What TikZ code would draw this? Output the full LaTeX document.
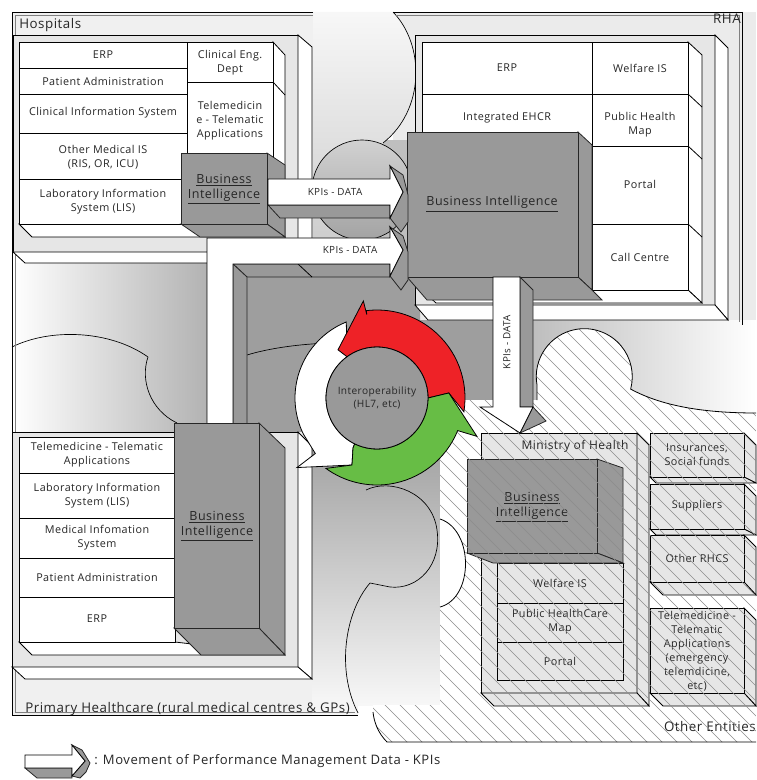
\documentclass[tikz,border=0pt]{standalone}
\usepackage{fontspec}
\setmainfont{Open Sans}[LetterSpace=4]
\definecolor{bigray}{HTML}{999999}
\definecolor{platgray}{HTML}{E6E6E6}
\definecolor{ringred}{HTML}{EE2227}
\definecolor{ringgreen}{HTML}{67BD45}
\definecolor{hatchgray}{HTML}{8C8C8C}
\newcommand\otherregion{(440,705) -- (440,400) -- (537,400) -- (537,385) arc[start angle=-190, end angle=15, radius=48] .. controls (660,405) and (700,413) .. (756,413) -- (756,742) -- (387,742) .. controls (378,733) and (374,722) .. (373,712) -- (373,705) -- cycle}
\tikzset{
  lnk/.style={draw=black, line width=0.6pt},
  platf/.style={fill=platgray, draw=black, line width=0.6pt},
  facew/.style={fill=white, draw=black, line width=0.6pt},
  boxw/.style={fill=white, draw=black, line width=0.6pt},
  boxg/.style={fill=platgray, draw=black, line width=0.6pt},
  bif/.style={fill=bigray, draw=black!85, line width=0.6pt},
  txt/.style={font=\fontsize{8.1}{10.5}\selectfont, align=center, inner sep=0pt, text=black!85},
  kpitxt/.style={font=\fontsize{7.4}{9}\selectfont, inner sep=0pt, text=black!85},
  bitxt/.style={font=\fontsize{9.4}{11.2}\selectfont, align=center, inner sep=0pt, text=black!85},
  reglbl/.style={font=\fontsize{10}{12}\selectfont, inner sep=0pt, text=black!85},
}
\begin{document}
\begin{tikzpicture}[x=0.75pt,y=-0.75pt]
\useasboundingbox (0,0) rectangle (756,780);
\fill[white] (0,0) rectangle (756,780);

% ---- background areas
\fill[black!8] (393,12) rectangle (756,330);
\fill[black!25] (383,140) rectangle (415,320);
\fill[black!6] (12,12) rectangle (313,252);
\shade[top color=black!3, bottom color=black!20] (313,12) -- (393,12) .. controls (425,45) and (425,110) .. (383,143) -- (383,250) -- (313,250) -- cycle;
\draw[line width=0.5pt] (393,12) .. controls (425,45) and (425,110) .. (383,143);
\shade[top color=black!18, bottom color=black!36, draw=black, line width=0.5pt] (362,190) circle[radius=50];
\shade[left color=white, right color=black!30] (12,263) rectangle (207,432);
\draw[line width=0.5pt] (12,347) .. controls (50,328) and (110,330) .. (148,357) .. controls (140,380) and (150,410) .. (177,423);
\fill[black!38] (233,264) -- (420,264) -- (420,320) -- (493,320) -- (493,432) -- (233,432) -- cycle;
\shade[top color=black!38, bottom color=black!3] (312,432) rectangle (440,705);
\shade[left color=black!30, right color=white] (493,320) rectangle (756,420);
\fill[black!6] (12,432) rectangle (312,715);
\fill[black!4] (312,700) rectangle (358,715);
\draw[line width=0.5pt] (247,355) .. controls (270,348) and (300,344) .. (330,343);
\draw[line width=0.5pt] (366,490) .. controls (390,478) and (432,492) .. (437,530) .. controls (442,565) and (418,590) .. (390,587) -- (370,583) .. controls (345,612) and (336,670) .. (358,713);

% ---- outer frames
\draw[lnk] (313,12) -- (12,12) -- (12,715) -- (358,715);
\draw[gray, line width=0.4pt] (313,15) -- (15,15) -- (15,712) -- (355,712);
\draw[lnk] (393,12) -- (742,12) -- (742,325);
\draw[gray, line width=0.4pt] (396,15) -- (739,15) -- (739,322);

% ---- other entities (hatched area)
\fill[white] \otherregion;
\draw[platf] (481,433) rectangle (637,693);
\draw[platf] (637,433) -- (649,445) -- (649,706) -- (637,693) -- cycle;
\draw[platf] (481,693) -- (494,706) -- (649,706) -- (637,693) -- cycle;
\draw[boxg] (497,563) rectangle (623,603);
\draw[boxg] (497,603) rectangle (623,642);
\draw[boxg] (497,642) rectangle (623,680);
\draw[bif] (597,459) -- (623,468) -- (623,563) -- (597,553) -- cycle;
\draw[bif] (467,553) -- (493,563) -- (623,563) -- (597,553) -- cycle;
\draw[bif] (467,459) rectangle (597,553);
\foreach \ya/\yb/\dd in {433/477/6, 484/529/6, 535/582/13, 608/693/13} {
  \draw[platf] (744,\ya) -- (756,\ya+12) -- (756,\yb+\dd) -- (744,\yb) -- cycle;
  \draw[platf] (650,\yb) -- (650+\dd,\yb+\dd) -- (756,\yb+\dd) -- (744,\yb) -- cycle;
  \draw[platf] (650,\ya) rectangle (744,\yb);
}
\node[reglbl, font=\fontsize{9}{11}\selectfont] (mh) at (575,446) {Ministry of Health};
\node[bitxt] (mbi) at (532,507) {\underline{Business}\\\underline{Intelligence}};
\node[txt] (m1) at (560,583) {Welfare IS};
\node[txt] (m2) at (560,622) {Public HealthCare\\Map};
\node[txt] (m3) at (560,661) {Portal};
\node[txt] (o1) at (697,455) {Insurances,\\Social funds};
\node[txt] (o2) at (697,506) {Suppliers};
\node[txt] (o3) at (697,558) {Other RHCS};
\node[txt] (o4) at (697,651) {Telemedicine -\\Telematic\\Applications\\(emergency\\telemdicine,\\etc)};
\node[reglbl, anchor=base east] (other) at (756,731) {Other Entities};
\begin{scope}
  \clip \otherregion;
  \foreach \k in {0,...,54} {
    \draw[hatchgray, line width=0.45pt] ({\k*15-80},300) -- ++(500,500);
  }
\end{scope}
\draw[line width=0.6pt] (537,400) -- (537,385) arc[start angle=-190, end angle=15, radius=48] .. controls (660,405) and (700,413) .. (756,413);
\draw[line width=0.6pt] (373,712) .. controls (374,722) and (378,733) .. (387,742) -- (756,742);
\draw[fill=white, line width=0.6pt] (440,519) .. controls (474,530) and (474,598) .. (440,607);

% ---- hospitals
\draw[platf] (13,35) rectangle (298,252);
\draw[facew] (298,35) -- (312,47) -- (312,263) -- (298,252) -- cycle;
\draw[facew] (13,252) -- (25,263) -- (312,263) -- (298,252) -- cycle;
\draw[facew] (273,42) -- (285,55) -- (285,237) -- (273,224) -- cycle;
\draw[lnk] (273,82) -- (285,95);
\draw[facew] (19,224) -- (32,237) -- (285,237) -- (273,224) -- cycle;
\draw[boxw] (19,42) rectangle (187,68);
\draw[boxw] (19,68) rectangle (187,94);
\draw[boxw] (19,94) rectangle (187,133);
\draw[boxw] (19,133) rectangle (187,179);
\draw[boxw] (19,179) rectangle (187,224);
\draw[boxw] (187,42) rectangle (273,82);
\draw[boxw] (187,82) rectangle (273,224);
\draw[bif] (267,153) -- (285,165) -- (285,237) -- (267,224) -- cycle;
\draw[bif] (181,224) -- (200,237) -- (285,237) -- (267,224) -- cycle;
\draw[bif] (181,153) rectangle (267,224);
\node[txt] (h1) at (103,55) {ERP};
\node[txt] (h2) at (103,81) {Patient Administration};
\node[txt] (h3) at (103,113) {Clinical Information System};
\node[txt] (h4) at (103,157) {Other Medical IS\\(RIS, OR, ICU)};
\node[txt] (h5) at (103,202) {Laboratory Information\\System (LIS)};
\node[txt] (h6) at (230,63) {Clinical Eng.\\Dept};
\node[txt] (h7) at (230,121) {Telemedicin\\e - Telematic\\Applications};
\node[bitxt] (hbi) at (224,189) {\underline{Business}\\\underline{Intelligence}};
\node[reglbl, anchor=base west] (hosp) at (19,29) {Hospitals};

% ---- RHA
\draw[platf] (415,35) rectangle (715,305);
\draw[facew] (715,35) -- (728,48) -- (728,320) -- (715,305) -- cycle;
\draw[facew] (415,305) -- (428,320) -- (728,320) -- (715,305) -- cycle;
\draw[facew] (688,42) -- (702,55) -- (702,303) -- (688,290) -- cycle;
\foreach \yy in {94,146,224} { \draw[lnk] (688,\yy) -- (702,\yy+13); }
\draw[facew] (422,290) -- (436,303) -- (702,303) -- (688,290) -- cycle;
\draw[boxw] (422,42) rectangle (592,94);
\draw[boxw] (422,94) rectangle (592,290);
\draw[boxw] (592,42) rectangle (688,94);
\draw[boxw] (592,94) rectangle (688,146);
\draw[boxw] (592,146) rectangle (688,224);
\draw[boxw] (592,224) rectangle (688,290);
\draw[bif] (578,132) -- (592,145) -- (592,290) -- (578,277) -- cycle;
\draw[bif] (407,277) -- (427,300) -- (602,300) -- (592,290) -- (578,277) -- cycle;
\draw[bif] (407,132) rectangle (578,277);
\node[txt] (r1) at (507,68) {ERP};
\node[txt] (r2) at (640,68) {Welfare IS};
\node[txt] (r3) at (507,118) {Integrated EHCR};
\node[txt] (r4) at (640,125) {Public Health\\Map};
\node[txt] (r5) at (640,184) {Portal};
\node[txt] (r6) at (640,257) {Call Centre};
\node[bitxt] (rbi) at (492,204) {\underline{Business Intelligence}};
\node[reglbl, anchor=base east] (rha) at (741,24) {RHA};

% ---- KPI arrow: hospitals to RHA
\draw[bif] (268,205) -- (280,218) -- (390,218) -- (390,205) -- cycle;
\draw[bif] (390,166) -- (403,175) -- (408,195) -- (408,222) -- (401,232) -- (390,218) -- (403,192) -- cycle;
\draw[facew] (268,179) -- (390,179) -- (390,166) -- (403,192) -- (390,218) -- (390,205) -- (268,205) -- cycle;
\node[kpitxt] (k1) at (335,192) {KPIs - DATA};

% ---- KPI arrow: primary healthcare to RHA
\draw[bif] (233,264) -- (247,277) -- (390,277) -- (390,264) -- cycle;
\draw[bif] (233,264) -- (247,277) -- (247,425) -- (233,425) -- cycle;
\draw[lnk] (298,264) -- (312,277);
\draw[bif] (390,227) -- (403,236) -- (408,252) -- (408,280) -- (401,290) -- (390,276) -- (403,250) -- cycle;
\draw[facew] (207,238) -- (390,238) -- (390,227) -- (403,250) -- (390,276) -- (390,264) -- (233,264) -- (233,425) -- (207,425) -- cycle;
\node[kpitxt] (k2) at (350,250) {KPIs - DATA};

% ---- KPI arrow: RHA to ministry
\draw[bif] (520,277) -- (533,290) -- (533,407) -- (520,407) -- cycle;
\draw[bif] (533,407) -- (546,421) -- (520,433) -- cycle;
\draw[facew] (493,277) -- (520,277) -- (520,407) -- (533,407) -- (520,433) -- (480,407) -- (493,407) -- cycle;
\node[kpitxt, rotate=90] (k3) at (507,342) {KPIs - DATA};

% ---- primary healthcare
\draw[platf] (12,432) rectangle (298,667);
\draw[facew] (298,432) -- (312,446) -- (312,679) -- (298,667) -- cycle;
\draw[facew] (12,667) -- (25,679) -- (312,679) -- (298,667) -- cycle;
\draw[facew] (19,642) -- (32,655) -- (285,655) -- (175,642) -- cycle;
\draw[boxw] (19,437) rectangle (175,473);
\draw[boxw] (19,473) rectangle (175,518);
\draw[boxw] (19,518) rectangle (175,558);
\draw[boxw] (19,558) rectangle (175,597);
\draw[boxw] (19,597) rectangle (175,642);
\draw[bif] (259,423) -- (285,448) -- (285,655) -- (259,628) -- cycle;
\draw[bif] (174,628) -- (201,655) -- (285,655) -- (259,628) -- cycle;
\draw[bif] (174,423) rectangle (259,628);
\node[txt] (p1) at (97,455) {Telemedicine - Telematic\\Applications};
\node[txt] (p2) at (97,496) {Laboratory Information\\System (LIS)};
\node[txt] (p3) at (97,538) {Medical Infomation\\System};
\node[txt] (p4) at (97,577) {Patient Administration};
\node[txt] (p5) at (97,619) {ERP};
\node[bitxt] (pbi) at (217,526) {\underline{Business}\\\underline{Intelligence}};
\node[reglbl, anchor=base west] (phc) at (25,712) {Primary Healthcare (rural medical centres \& GPs)};

% ---- interoperability cycle
\begin{scope}[shift={(377,398)}, yscale=-1]
  \draw[fill=white, line width=0.6pt] (112:82) arc[start angle=112, end angle=206, radius=82] -- (222:83) -- (221:106) -- (-25,-67) -- (-24,-50) -- (244:51) arc[start angle=244, end angle=126, radius=51] -- cycle;
  \draw[fill=ringred, line width=0.6pt] (97:84) -- (98:98) -- (129:62) -- (126:51) arc[start angle=126, end angle=0, radius=51] -- (4:72) -- (-9:88) arc[start angle=-9, end angle=97, radius=88] -- cycle;
  \draw[fill=ringgreen, line width=0.6pt] (4:72) -- (-21:107) -- (-22:87) arc[start angle=-22, end angle=-126, radius=87] -- (-25,-67) -- (-24,-50) -- (244:51) arc[start angle=244, end angle=360, radius=51] -- cycle;
\end{scope}
\node[circle, draw=black, fill=bigray, line width=0.6pt, minimum size=76.5pt, txt, font=\fontsize{7.6}{10}\selectfont] (interop) at (377,398) {Interoperability\\(HL7, etc)};

% ---- legend
\draw[bif] (25,768) -- (37,778) -- (72,778) -- (72,768) -- cycle;
\draw[bif] (72,745) -- (82,750) -- (90,763) -- (86,772) -- (80,778) -- (72,776) -- (85,761) -- cycle;
\draw[facew] (25,755) -- (72,755) -- (72,745) -- (85,761) -- (72,776) -- (72,768) -- (25,768) -- cycle;
\node[anchor=west, font=\fontsize{9.8}{12}\selectfont, inner sep=0pt, text=black!85] (legendtxt) at (94,761) {: Movement of Performance Management Data - KPIs};
\end{tikzpicture}
\end{document}
